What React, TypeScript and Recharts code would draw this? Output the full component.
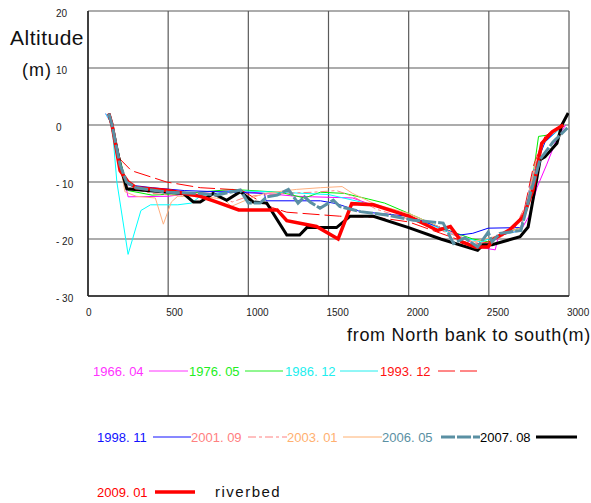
import React from "react";
import { LineChart, Line, XAxis, YAxis, CartesianGrid } from "recharts";

type P = [number, number];

const xTicks = [0, 500, 1000, 1500, 2000, 2500, 3000];
const yTicks = [-30, -20, -10, 0, 10, 20];

const s1966: P[] = [[110,2],[150,0],[200,-6],[250,-12.6],[500,-12.5],[700,-11.8],[900,-11.5],[1100,-12],[1300,-12.5],[1400,-12.6],[1650,-12.8],[1750,-13.8],[1850,-14.5],[2000,-16],[2200,-18],[2350,-20],[2450,-21.5],[2540,-21.9],[2560,-19.5],[2620,-19],[2700,-18.5],[2750,-16],[2800,-11],[2860,-7],[2930,-2],[2980,0]];
const s1976: P[] = [[130,1.5],[150,0],[200,-6],[250,-11.5],[400,-12.3],[600,-12],[900,-11.3],[1200,-11.8],[1350,-12.8],[1450,-11.8],[1600,-12],[1750,-13],[1850,-13.7],[2000,-15.5],[2200,-18],[2400,-20],[2500,-20.5],[2600,-19],[2700,-18],[2770,-10],[2810,-2],[2860,-1.8],[2950,-0.5]];
const s1986: P[] = [[110,2],[150,0],[180,-10],[250,-22.7],[330,-15],[390,-14],[560,-14],[645,-13.7],[700,-12.5],[900,-11.5],[1200,-11.8],[1500,-12.2],[1700,-13.5],[1900,-15],[2100,-17],[2300,-19.5],[2450,-20.5],[2550,-19.5],[2700,-18.5],[2780,-8],[2850,-3],[2950,-0.5]];
const s1993: P[] = [[130,2],[150,0],[200,-6],[270,-8],[490,-10],[700,-11],[955,-11.4],[1050,-13],[1150,-14.5],[1240,-15.3],[1570,-16],[1800,-16.2],[2000,-17],[2200,-19],[2400,-21],[2500,-20.5],[2650,-18.5],[2720,-15],[2780,-7],[2850,-2],[2950,0]];
const s1998: P[] = [[130,2],[150,0],[200,-7],[250,-10.5],[400,-11],[600,-11.5],[900,-11.8],[1100,-12],[1110,-13.3],[1450,-13.3],[1550,-13.8],[1700,-15.2],[2000,-16],[2200,-18],[2320,-19.3],[2400,-19],[2496,-18.1],[2700,-18],[2780,-8],[2850,-3],[2960,0]];
const s2001: P[] = [[130,2],[150,0],[200,-7],[250,-11],[400,-12],[600,-12.5],[800,-12.5],[900,-13.5],[1000,-12.5],[1200,-12],[1400,-11.8],[1550,-11.5],[1650,-12.5],[1800,-14.8],[2000,-16.5],[2200,-18.5],[2400,-20.5],[2500,-20.8],[2650,-18.5],[2750,-13],[2800,-5],[2900,-1],[2960,0]];
const s2003: P[] = [[130,2],[150,0],[200,-7],[230,-11.7],[300,-12.5],[420,-12.8],[470,-17.4],[520,-13.5],[560,-12.5],[700,-12.5],[850,-13],[893,-14.3],[1000,-13],[1100,-12],[1300,-11.3],[1450,-11],[1585,-10.8],[1650,-12],[1800,-14],[2000,-15.5],[2200,-18],[2400,-20.5],[2550,-19.5],[2700,-18],[2780,-8],[2850,-2.5],[2950,-0.5]];
const s2006: P[] = [[130,2],[150,0],[200,-7],[240,-10],[300,-11],[500,-11.8],[700,-12],[800,-12.3],[900,-11.7],[950,-11.4],[1000,-13.7],[1073,-13.7],[1115,-12.6],[1180,-12.3],[1250,-11.3],[1310,-13.7],[1350,-12.6],[1385,-13.5],[1447,-14.6],[1530,-13.2],[1570,-14.3],[1700,-15.2],[1863,-15.8],[2030,-16.7],[2215,-17.2],[2280,-20.8],[2350,-19.8],[2430,-21.4],[2496,-18.8],[2520,-20.5],[2570,-19],[2700,-18.5],[2760,-12],[2820,-6],[2900,-3],[2990,-0.5]];
const s2007: P[] = [[130,2],[150,0],[200,-7],[242,-11.2],[594,-12],[657,-13.5],[700,-13.5],[780,-12],[865,-13.2],[950,-11.7],[1030,-13.5],[1115,-13.7],[1240,-19.3],[1320,-19.3],[1365,-18],[1550,-18],[1635,-16],[1780,-16],[2000,-18],[2200,-20],[2430,-22],[2465,-21],[2520,-21],[2695,-19.6],[2745,-17.9],[2820,-6.1],[2850,-5.6],[2925,-3.2],[2955,0],[2995,2.1]];
const s2009: P[] = [[130,2],[150,0],[200,-8],[250,-10],[300,-11],[500,-11.5],[700,-12.5],[800,-13.5],[940,-14.9],[1180,-14.9],[1240,-16.8],[1425,-17.8],[1560,-20],[1645,-13.8],[1780,-14],[2000,-16],[2180,-18.5],[2260,-17.8],[2330,-20.5],[2415,-21.4],[2495,-21.4],[2530,-20],[2630,-18.4],[2715,-16.1],[2775,-11.4],[2830,-3.2],[2895,-1.2],[2965,0]];

const toPts = (a: P[]) => a.map(([x, y]) => ({ x, y }));

const FONT = "Liberation Sans";

const XTick = (props: any) => {
  const { x, payload } = props;
  return (
    <text x={x - 2} y={316} fontSize={10} fontFamily={FONT} fill="#222">
      {payload.value}
    </text>
  );
};

const YTick = (props: any) => {
  const { y, payload } = props;
  const v = payload.value;
  const label = v < 0 ? `- ${Math.abs(v)}` : `${v}`;
  return (
    <text x={56} y={y + 2} dominantBaseline="central" fontSize={10} fontFamily={FONT} fill="#222">
      {label}
    </text>
  );
};

type LegItem = { label: string; color: string; tx: number; lx1: number; lx2: number; y: number; w: number; dash?: string };
const legendItems: LegItem[] = [
  { label: "1966. 04", color: "#ff33ff", tx: 93, lx1: 149, lx2: 188, y: 371, w: 1 },
  { label: "1976. 05", color: "#22ee22", tx: 189, lx1: 245, lx2: 283, y: 371, w: 1 },
  { label: "1986. 12", color: "#22eeee", tx: 285, lx1: 340, lx2: 378, y: 371, w: 1 },
  { label: "1993. 12", color: "#ff1111", tx: 380, lx1: 438, lx2: 478, y: 371, w: 1, dash: "17 5" },
  { label: "1998. 11", color: "#1111ff", tx: 97, lx1: 153, lx2: 191, y: 437, w: 1 },
  { label: "2001. 09", color: "#ff8080", tx: 191, lx1: 248, lx2: 287, y: 437, w: 1, dash: "8 3 3 3" },
  { label: "2003. 01", color: "#ffb070", tx: 287, lx1: 343, lx2: 382, y: 437, w: 1 },
  { label: "2006. 05", color: "#5a90a3", tx: 382, lx1: 441, lx2: 480, y: 437, w: 3, dash: "14 2" },
  { label: "2007. 08", color: "#000000", tx: 480, lx1: 536, lx2: 577, y: 437, w: 3 },
  { label: "2009. 01", color: "#ff0000", tx: 97, lx1: 155, lx2: 195, y: 492, w: 3.5 },
];

export default function App() {
  return (
    <div style={{ position: "absolute", left: 0, top: 0, width: 591, height: 503, background: "#fff" }}>
      <LineChart width={591} height={503} margin={{ top: 11, right: 22, left: 58, bottom: 177 }}>
        <CartesianGrid stroke="#5a5a5a" strokeWidth={1.2} />
        <XAxis
          type="number"
          dataKey="x"
          domain={[0, 3000]}
          ticks={xTicks}
          allowDataOverflow
          height={30}
          tickLine={false}
          axisLine={{ stroke: "#222", strokeWidth: 1.5 }}
          tick={<XTick />}
          interval={0}
        />
        <YAxis
          type="number"
          domain={[-30, 20]}
          ticks={yTicks}
          allowDataOverflow
          width={30}
          tickLine={false}
          axisLine={{ stroke: "#222", strokeWidth: 1.5 }}
          tick={<YTick />}
          interval={0}
        />
        <Line data={toPts(s1966)} dataKey="y" stroke="#ff00ff" strokeWidth={1} dot={false} isAnimationActive={false} />
        <Line data={toPts(s1976)} dataKey="y" stroke="#00ee00" strokeWidth={1} dot={false} isAnimationActive={false} />
        <Line data={toPts(s1986)} dataKey="y" stroke="#00ffff" strokeWidth={1} dot={false} isAnimationActive={false} />
        <Line data={toPts(s1993)} dataKey="y" stroke="#ff0000" strokeWidth={1} strokeDasharray="17 5" dot={false} isAnimationActive={false} />
        <Line data={toPts(s1998)} dataKey="y" stroke="#0000ff" strokeWidth={1} dot={false} isAnimationActive={false} />
        <Line data={toPts(s2001)} dataKey="y" stroke="#ff8080" strokeWidth={1} strokeDasharray="8 3 3 3" dot={false} isAnimationActive={false} />
        <Line data={toPts(s2003)} dataKey="y" stroke="#ffb080" strokeWidth={1} dot={false} isAnimationActive={false} />
        <Line data={toPts(s2007)} dataKey="y" stroke="#000000" strokeWidth={3} dot={false} isAnimationActive={false} />
        <Line data={toPts(s2009)} dataKey="y" stroke="#ff0000" strokeWidth={3.5} dot={false} isAnimationActive={false} />
        <Line data={toPts(s2006)} dataKey="y" stroke="#5a90a3" strokeWidth={3} strokeDasharray="14 2" dot={false} isAnimationActive={false} />
      </LineChart>
      <svg width={591} height={503} style={{ position: "absolute", left: 0, top: 0, pointerEvents: "none" }}>
        <text x={10} y={45} fontSize={21} fontFamily={FONT} letterSpacing={0.5} fill="#111">Altitude</text>
        <text x={22} y={76} fontSize={18} fontFamily={FONT} letterSpacing={1} fill="#111">(m)</text>
        <text x={347} y={341} fontSize={18} fontFamily={FONT} letterSpacing={0.7} fill="#111">from North bank to south(m)</text>
        {legendItems.map((it) => (
          <g key={it.label}>
            <text x={it.tx} y={it.y + 5} fontSize={13} fontFamily={FONT} fill={it.color}>{it.label}</text>
            <line x1={it.lx1} x2={it.lx2} y1={it.y} y2={it.y} stroke={it.color} strokeWidth={it.w} strokeDasharray={it.dash} />
          </g>
        ))}
        <text x={215} y={497} fontSize={15} fontFamily={FONT} letterSpacing={1.5} fill="#111">riverbed</text>
      </svg>
    </div>
  );
}
